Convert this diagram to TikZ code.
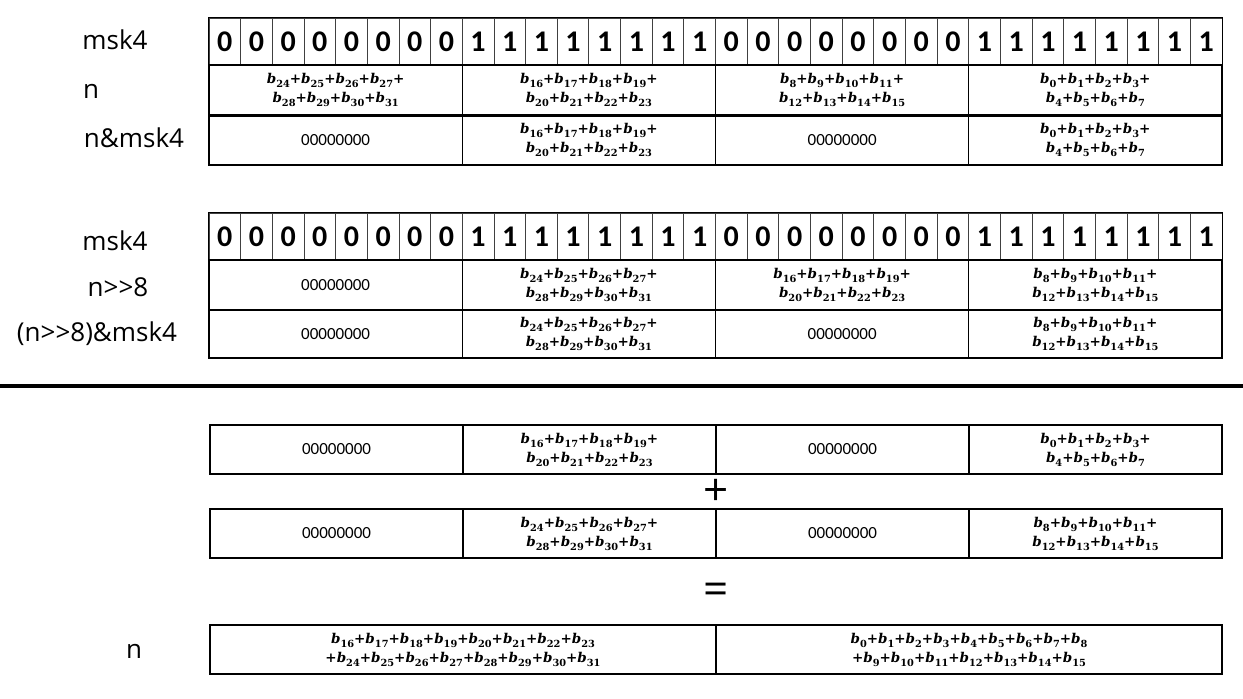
\documentclass[tikz,border=0pt]{standalone}
\usepackage{fontspec}
\newfontfamily\labfont{Open Sans}
\newfontfamily\bitfont{Carlito}
\newfontfamily\fmlfont{DejaVu Serif}
\newcommand\bv[1]{\textit{b}\raisebox{-0.3em}{\upshape\fontsize{9.8}{10}\selectfont #1}}
\newcommand\qA{\bv{24}+\bv{25}+\bv{26}+\bv{27}+\\\bv{28}+\bv{29}+\bv{30}+\bv{31}}
\newcommand\qB{\bv{16}+\bv{17}+\bv{18}+\bv{19}+\\\bv{20}+\bv{21}+\bv{22}+\bv{23}}
\newcommand\qC{\bv{8}+\bv{9}+\bv{10}+\bv{11}+\\\bv{12}+\bv{13}+\bv{14}+\bv{15}}
\newcommand\qD{\bv{0}+\bv{1}+\bv{2}+\bv{3}+\\\bv{4}+\bv{5}+\bv{6}+\bv{7}}
\newcommand\zz{{\bitfont\mdseries\fontsize{17}{20}\selectfont 00000000}}
\begin{document}
\begin{tikzpicture}[x=1pt,y=-1pt,
  lab/.style={font=\labfont\fontsize{26}{28}\selectfont, inner sep=0pt},
  bit/.style={draw=black!75, line width=0.8pt, minimum width=31.656pt, minimum height=47pt, inner sep=0pt,
     font=\bitfont\bfseries\fontsize{30}{34}\selectfont},
  quart/.style={draw, line width=1.4pt, minimum width=253.25pt, minimum height=#1, inner sep=0pt,
     align=center, font=\fmlfont\bfseries\fontsize{13.5}{19}\selectfont},
  half/.style={draw, line width=1.4pt, minimum width=506pt, minimum height=49pt, inner sep=0pt,
     align=center, font=\fmlfont\bfseries\fontsize{13.5}{19}\selectfont},
  op/.style={font=\labfont\fontsize{44}{44}\selectfont, inner sep=0pt}]
\useasboundingbox (0,0) rectangle (1243,699);
% ---------- block 1 ----------
\node[lab] (l1) at (115,40) {msk4};
\node[lab] (l2) at (91,91) {n};
\node[lab] (l3) at (134,138) {n\&msk4};
\foreach \i in {1,...,32}{
  \pgfmathtruncatemacro\v{mod(int((\i-1)/8),2)}
  \node[bit] (a-\i) at ({209+31.656*(\i-0.5)},41.5) {\v};
}
\draw[line width=1.4pt] (a-1.north west) rectangle (a-32.south east);
\foreach \t [count=\q] in {\qA,\qB,\qC,\qD}{
  \node[quart=50pt] (an-\q) at ({209+253.25*(\q-0.5)},90) {\t};
}
\foreach \t [count=\q] in {\zz,\qB,\zz,\qD}{
  \node[quart=50pt] (am-\q) at ({209+253.25*(\q-0.5)},140) {\t};
}
\draw[line width=2.6pt] (an-1.south west) -- (an-4.south east);
% ---------- block 2 ----------
\node[lab] (l4) at (115,241) {msk4};
\node[lab] (l5) at (118,287) {n>>8};
\node[lab] (l6) at (97,334) {(n>>8)\&msk4};
\foreach \i in {1,...,32}{
  \pgfmathtruncatemacro\v{mod(int((\i-1)/8),2)}
  \node[bit] (b-\i) at ({209+31.656*(\i-0.5)},236.5) {\v};
}
\draw[line width=1.4pt] (b-1.north west) rectangle (b-32.south east);
\foreach \t [count=\q] in {\zz,\qA,\qB,\qC}{
  \node[quart=50pt] (bn-\q) at ({209+253.25*(\q-0.5)},285) {\t};
}
\foreach \t [count=\q] in {\zz,\qA,\zz,\qC}{
  \node[quart=48pt] (bm-\q) at ({209+253.25*(\q-0.5)},334) {\t};
}
% ---------- separator ----------
\coordinate (s1) at (0,386);
\coordinate (s2) at (1243,386);
\draw[line width=4pt] (s1) -- (s2);
% ---------- block 3 ----------
\foreach \t [count=\q] in {\zz,\qB,\zz,\qD}{
  \node[quart=49pt] (c-\q) at ({210+253*(\q-0.5)},449.5) {\t};
}
\node[op] (plus) at (716,492) {+};
\foreach \t [count=\q] in {\zz,\qA,\zz,\qC}{
  \node[quart=49pt] (d-\q) at ({210+253*(\q-0.5)},533.5) {\t};
}
\node[op] (eq) at (716,594) {=};
\node[lab] (l7) at (134,651) {n};
\node[half] (e-1) at (463,649.5) {\bv{16}+\bv{17}+\bv{18}+\bv{19}+\bv{20}+\bv{21}+\bv{22}+\bv{23}\\+\bv{24}+\bv{25}+\bv{26}+\bv{27}+\bv{28}+\bv{29}+\bv{30}+\bv{31}};
\node[half] (e-2) at (969,649.5) {\bv{0}+\bv{1}+\bv{2}+\bv{3}+\bv{4}+\bv{5}+\bv{6}+\bv{7}+\bv{8}\\+\bv{9}+\bv{10}+\bv{11}+\bv{12}+\bv{13}+\bv{14}+\bv{15}};
\end{tikzpicture}
\end{document}
